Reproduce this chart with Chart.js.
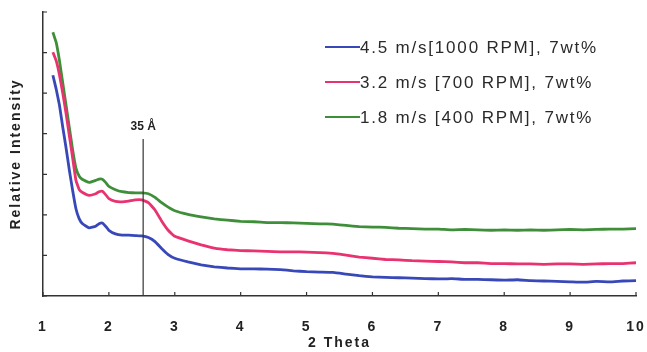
<!DOCTYPE html>
<html>
<head>
<meta charset="utf-8">
<script src="https://cdn.jsdelivr.net/npm/chart.js@4.4.1/dist/chart.umd.min.js"></script>
<style>
  html, body { margin: 0; padding: 0; background: #fff; }
  canvas { display: block; }
</style>
</head>
<body>
<canvas id="xrd" width="647" height="352"></canvas>
<script>
// 2 theta sample positions shared by all three scans
const thetaValues = [1.15, 1.2, 1.25, 1.3, 1.35, 1.4, 1.45, 1.5, 1.55, 1.6, 1.7, 1.8, 1.85, 1.9, 1.95,
    2.0, 2.1, 2.2, 2.3, 2.4, 2.5, 2.6, 2.7, 2.8, 2.9,
    3.0, 3.2, 3.4, 3.6, 3.8, 4.0, 4.2, 4.4, 4.6, 4.8, 5.0, 5.2, 5.4, 5.6, 5.8, 6.0, 6.2, 6.4,
    6.6, 6.8, 7.0, 7.2, 7.4, 7.6, 7.8, 8.0, 8.2, 8.4, 8.6, 8.8, 9.0, 9.2, 9.4, 9.6, 9.8, 10.0];

const rpm1000 = [5.44, 5.1, 4.7, 4.16, 3.65, 3.1, 2.6, 2.15, 1.9, 1.78, 1.68, 1.72, 1.78, 1.80, 1.72,
    1.62, 1.53, 1.50, 1.50, 1.49, 1.48, 1.44, 1.34, 1.17, 1.02,
    0.93, 0.84, 0.77, 0.72, 0.69, 0.67, 0.67, 0.66, 0.65, 0.62, 0.60, 0.59, 0.58, 0.54, 0.50, 0.47, 0.46, 0.45,
    0.44, 0.43, 0.42, 0.43, 0.41, 0.41, 0.40, 0.39, 0.40, 0.38, 0.37, 0.36, 0.35, 0.34, 0.36, 0.35, 0.37, 0.38];
const rpm700 = [6.01, 5.8, 5.45, 5.0, 4.5, 3.95, 3.4, 2.85, 2.62, 2.55, 2.48, 2.52, 2.57, 2.58, 2.50,
    2.40, 2.33, 2.32, 2.34, 2.37, 2.37, 2.30, 2.12, 1.85, 1.62,
    1.47, 1.36, 1.26, 1.18, 1.14, 1.12, 1.11, 1.10, 1.09, 1.09, 1.08, 1.07, 1.05, 1.01, 0.96, 0.93, 0.90, 0.89,
    0.87, 0.86, 0.85, 0.84, 0.82, 0.82, 0.80, 0.80, 0.79, 0.79, 0.78, 0.79, 0.79, 0.78, 0.79, 0.80, 0.80, 0.82];
const rpm400 = [6.50, 6.25, 5.8, 5.25, 4.7, 4.15, 3.6, 3.15, 2.95, 2.87, 2.80, 2.85, 2.88, 2.88, 2.80,
    2.70, 2.62, 2.57, 2.55, 2.54, 2.54, 2.52, 2.43, 2.30, 2.19,
    2.10, 2.01, 1.95, 1.90, 1.87, 1.84, 1.83, 1.81, 1.81, 1.80, 1.79, 1.78, 1.77, 1.74, 1.71, 1.70, 1.69, 1.67,
    1.66, 1.65, 1.65, 1.63, 1.64, 1.63, 1.62, 1.63, 1.62, 1.63, 1.62, 1.63, 1.64, 1.63, 1.64, 1.65, 1.65, 1.66];

const seriesLabels = ["4.5 m/s[1000 RPM], 7wt%", "3.2 m/s [700 RPM], 7wt%", "1.8 m/s [400 RPM], 7wt%"];
const seriesColors = ["#3848b8", "#e8336f", "#3f8f3a"];

const markerTheta = 2.52;
const markerTop = 3.87;
const markerLabel = "35 Å";

const toPoints = ys => ys.map((v, i) => ({ x: thetaValues[i], y: v }));
const FONT = "'Liberation Sans', Arial, sans-serif";

const decor = {
    id: "decor",
    beforeDraw(chart) { chart.ctx.letterSpacing = "2px"; },
    afterDraw(chart) {
        const { ctx, scales: { x, y } } = chart;
        ctx.save();
        ctx.letterSpacing = "0px";
        ctx.strokeStyle = "#333";
        ctx.lineWidth = 1.2;
        ctx.beginPath();
        x.ticks.forEach((t, i) => {
            const px = x.getPixelForTick(i);
            ctx.moveTo(px, y.bottom); ctx.lineTo(px, y.bottom - 4);
        });
        y.ticks.forEach((t, i) => {
            const py = y.getPixelForTick(i);
            ctx.moveTo(x.left, py); ctx.lineTo(x.left + 4, py);
        });
        ctx.stroke();

        // 35 Å marker
        const mx = x.getPixelForValue(markerTheta);
        ctx.beginPath();
        ctx.moveTo(mx, y.getPixelForValue(markerTop));
        ctx.lineTo(mx, y.bottom);
        ctx.stroke();
        ctx.fillStyle = "#222";
        ctx.font = "bold 12px " + FONT;
        ctx.textAlign = "center";
        ctx.textBaseline = "middle";
        ctx.fillText(markerLabel, mx, 127);

        // legend
        ctx.font = "17px " + FONT;
        ctx.letterSpacing = "1.8px";
        ctx.textAlign = "left";
        seriesLabels.forEach((lab, i) => {
            const ly = 47 + i * 35;
            ctx.strokeStyle = seriesColors[i];
            ctx.lineWidth = 2;
            ctx.beginPath(); ctx.moveTo(325, ly); ctx.lineTo(360, ly); ctx.stroke();
            ctx.fillStyle = "#2a2a2a";
            ctx.fillText(lab, 360, ly + 1);
        });
        ctx.restore();
        ctx.letterSpacing = "0px";
    }
};

new Chart(document.getElementById("xrd"), {
    type: "line",
    data: {
        datasets: [rpm1000, rpm700, rpm400].map((ys, i) => ({
            label: seriesLabels[i], data: toPoints(ys),
            borderColor: seriesColors[i], borderWidth: 2.8,
            pointRadius: 0, tension: 0.1, fill: false
        }))
    },
    options: {
        responsive: false, animation: false,
        layout: { padding: { top: 12, right: 11, left: 0, bottom: 0 } },
        plugins: { legend: { display: false }, tooltip: { enabled: false } },
        scales: {
            x: {
                type: "linear", min: 1, max: 10,
                ticks: { stepSize: 1, padding: 15, color: "#222", font: { family: FONT, size: 14, weight: "bold" } },
                grid: { display: false },
                border: { color: "#333", width: 1.5 },
                title: { display: true, text: "2 Theta", color: "#222", padding: { top: 0, bottom: 0 },
                    font: { family: FONT, size: 14, weight: "bold" } },
                afterFit: s => { s.height = 56; s.paddingLeft = 0; s.paddingRight = 0; }
            },
            y: {
                min: 0, max: 7,
                ticks: { display: false, stepSize: 1 },
                grid: { display: false },
                border: { color: "#333", width: 1.5 },
                title: { display: true, text: "Relative Intensity", color: "#222", padding: { top: 8, bottom: 0 },
                    font: { family: FONT, size: 14, weight: "bold" } },
                afterFit: s => { s.width = 43; s.paddingTop = 0; s.paddingBottom = 0; }
            }
        }
    },
    plugins: [decor]
});
</script>
</body>
</html>
